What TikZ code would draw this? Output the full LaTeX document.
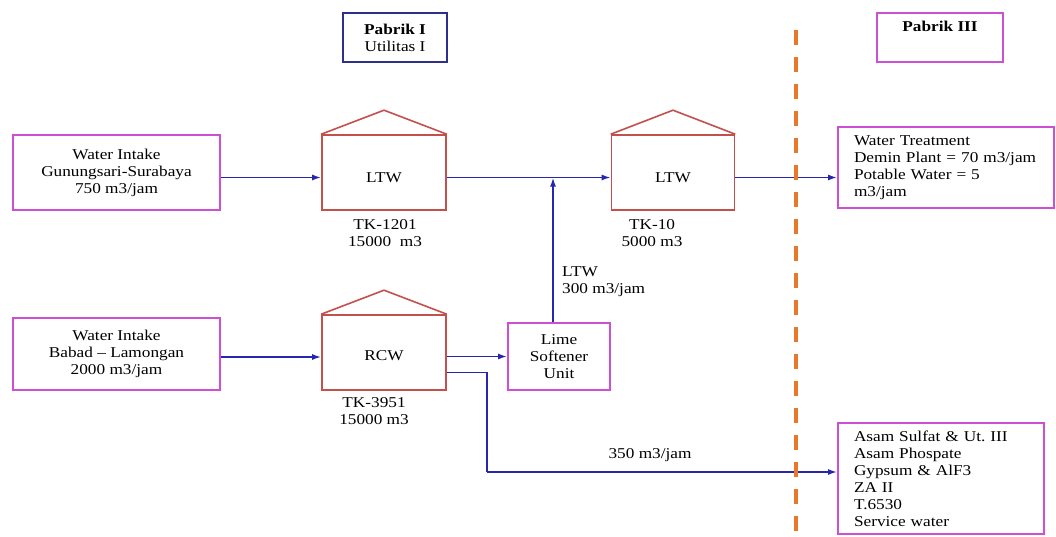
\documentclass[tikz,border=0pt]{standalone}
\usepackage{fontspec}
\setmainfont{Liberation Serif}[FakeStretch=1.15]
\usepackage{tikz}
\usetikzlibrary{positioning, arrows.meta}
\definecolor{boxpink}{HTML}{CC4FD6}
\definecolor{boxnavy}{HTML}{2E2E8C}
\definecolor{tankred}{HTML}{C4504C}
\definecolor{flowblue}{HTML}{2626B0}
\definecolor{divorange}{HTML}{E8792A}
\tikzset{
	plaintext/.style={font=\fontsize{15}{17}\selectfont, inner sep=0pt}
}

\begin{document}
\begin{tikzpicture}[x=1pt,y=-1pt]

\tikzset{
    unitbox/.style={
        shape=rectangle,
        draw=boxpink,
        line width=1.8pt,
        fill=white,
        align=center,
        font=\fontsize{15}{17}\selectfont
    },
    tankbody/.style={
        shape=rectangle,
        draw=tankred,
        line width=1.6pt,
        minimum width=124pt,
        minimum height=75pt,
        font=\fontsize{15}{17}\selectfont
    },
    roof/.style={draw=tankred, line width=1.6pt, line join=miter},
    flow/.style={draw=flowblue, line width=1.7pt, -{Latex[length=9pt,width=6pt]}},
    pipe/.style={draw=flowblue, line width=1.7pt},
    divider/.style={draw=divorange, line width=4pt, dash pattern=on 15pt off 12pt}
}

\useasboundingbox (0,0) rectangle (1056,536);

% header boxes
\node[unitbox, draw=boxnavy, line width=1.5pt, minimum width=104pt, minimum height=49pt] (p1) at (395,37.5) {\textbf{Pabrik I}\\Utilitas I};
\node[unitbox, minimum width=126pt, minimum height=49pt] (p3) at (940,37.5) {\textbf{Pabrik III}\\\strut};

% water intakes
\node[unitbox, minimum width=207pt, minimum height=75pt] (w1) at (116.5,172.5) {Water Intake\\Gunungsari-Surabaya\\750 m3/jam};
\node[unitbox, minimum width=207pt, minimum height=72pt] (w2) at (116.5,354) {Water Intake\\Babad -- Lamongan\\2000 m3/jam};

% tanks
\node[tankbody, label={[plaintext, yshift=-5pt]center:LTW}] (t1) at (384,172.5) {};
\node[tankbody, minimum width=123pt, label={[plaintext, yshift=-5pt]center:LTW}] (t2) at (673,172.5) {};
\node[tankbody, label={[plaintext, yshift=-3pt]center:RCW}] (t3) at (384,352.5) {};
\draw[roof] (t1.north west) -- ([yshift=24pt]t1.north) -- (t1.north east);
\draw[roof] (t2.north west) -- ([yshift=24pt]t2.north) -- (t2.north east);
\draw[roof] (t3.north west) -- ([yshift=24pt]t3.north) -- (t3.north east);

\node[plaintext, align=center] (l1) at (385,233) {TK-1201\\15000\ \ m3};
\node[plaintext, align=center] (l2) at (652,233) {TK-10\\5000 m3};
\node[plaintext, align=center] (l3) at (374,411) {TK-3951\\15000 m3};

% softener and users
\node[unitbox, minimum width=102pt, minimum height=67pt] (ls) at (559,356.5) {Lime\\Softener\\Unit};
\node[unitbox, minimum width=216pt, minimum height=81pt, text width=184pt, align=left] (wt) at (946,167.5) {Water Treatment\\Demin Plant = 70 m3/jam\\Potable Water = 5\\m3/jam};
\node[unitbox, minimum width=206pt, minimum height=111pt, text width=174pt, align=left] (as) at (941,478.5) {Asam Sulfat \& Ut.\ III\\Asam Phospate\\Gypsum \& AlF3\\ZA II\\T.6530\\Service water};

% flows
\draw[flow] ([yshift=-5pt]w1.east) -- ([yshift=-5pt]t1.west);
\draw[flow] ([yshift=-5pt]t1.east) -- ([yshift=-5pt]t2.west);
\draw[flow] ([yshift=-5pt]t2.east) -- ([yshift=-5pt]t2.east -| wt.west);
\draw[flow] ([yshift=-3pt]w2.east) -- ([yshift=-3pt]w2.east -| t3.west);
\draw[flow] ([yshift=-4pt]t3.east) -- ([yshift=-4pt]t3.east -| ls.west);
\draw[flow] ([xshift=-6pt]ls.north) -- ([xshift=-6pt,yshift=-5pt]ls.north |- t1.east);
\coordinate (turn) at (487,472);
\draw[pipe] ([yshift=-20pt]t3.east) -| (turn);
\draw[flow] (turn) -- (turn -| as.west);

\node[plaintext, align=left, anchor=west] (f1) at (562,282) {LTW\\300 m3/jam};
\node[plaintext] (f2) at (650,455) {350 m3/jam};

% plant border
\coordinate (d1) at (796,30);
\coordinate (d2) at (796,536);
\draw[divider] (d1) -- (d2);
\end{tikzpicture}
\end{document}
